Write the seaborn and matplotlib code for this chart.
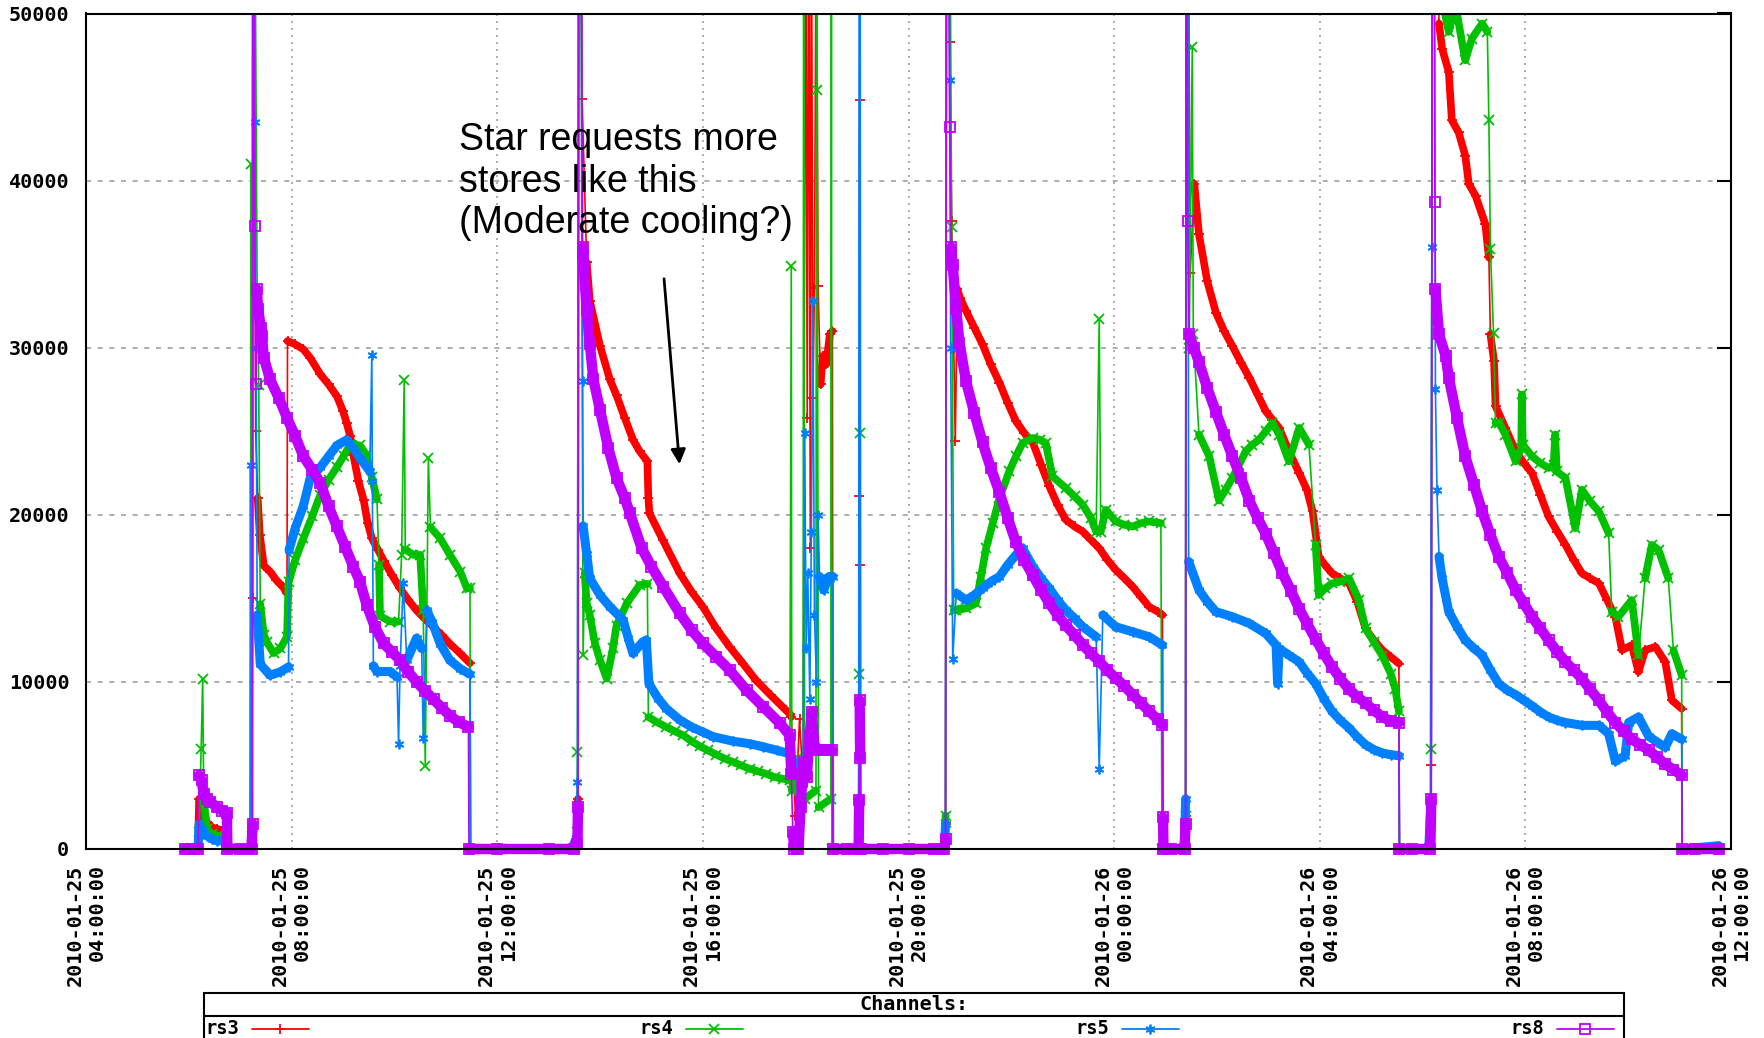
import pandas as pd
import numpy as np
import matplotlib
matplotlib.use('Agg')
import matplotlib.pyplot as plt
import matplotlib.dates as mdates
from matplotlib.lines import Line2D
from matplotlib.patches import Rectangle
import seaborn as sns

# (hours after 2010-01-25 04:00, value)
rs3_points = [
    (1.93, 0), (2.18, 0),
    (2.20, 3000), (2.25, 2800), (2.35, 1600), (2.45, 1300), (2.55, 1200), (2.65, 1100), (2.72, 1000), (2.73, 0),
    (3.22, 0),
    (3.24, 15000), (3.25, 60000), (3.27, 60000), (3.30, 25000), (3.34, 21000), (3.38, 18800), (3.46, 16950),
    (3.58, 16600), (3.70, 16100), (3.84, 15650), (3.91, 15300),
    (3.92, 30400), (4.07, 30200), (4.23, 29900), (4.36, 29400), (4.56, 28400), (4.72, 27800), (4.88, 27100),
    (5.00, 26200), (5.07, 25500), (5.14, 24700), (5.20, 23600), (5.30, 22000), (5.40, 20900), (5.48, 19500),
    (5.56, 18600), (5.68, 17900), (5.79, 17260), (5.95, 16400), (6.11, 15600), (6.27, 14900), (6.43, 14280),
    (6.60, 13750), (6.76, 13280), (6.92, 12800), (7.08, 12280), (7.28, 11700), (7.47, 11120), (7.48, 0),
    (9.55, 0),
    (9.57, 3000), (9.59, 60000), (9.63, 60000), (9.65, 44900), (9.74, 35100), (9.80, 32800), (10.00, 30100),
    (10.19, 28100), (10.32, 27150), (10.48, 25800), (10.64, 24500), (10.77, 23800), (10.92, 23200),
    (10.94, 21000), (10.96, 20100), (11.22, 18500), (11.55, 16500), (11.78, 15400), (12.00, 14500),
    (12.26, 13200), (12.52, 12100), (12.78, 11100), (13.03, 10110), (13.32, 9200), (13.61, 8320), (13.69, 8100),
    (13.72, 7900), (13.80, 2000), (13.88, 7800), (13.95, 4000), (14.00, 60000), (14.03, 25800), (14.06, 60000),
    (14.09, 18000), (14.11, 60000), (14.14, 27000), (14.17, 33600), (14.21, 60000), (14.24, 33700),
    (14.29, 27800), (14.33, 29500), (14.40, 29000), (14.47, 30800), (14.52, 31000), (14.53, 0),
    (15.03, 0), (15.04, 21100), (15.05, 44800), (15.06, 17000), (15.07, 0), (16.70, 0),
    (16.72, 1500), (16.74, 60000), (16.78, 60000), (16.80, 48300), (16.84, 37600), (16.88, 30000),
    (16.91, 24400), (16.95, 33500), (17.00, 33000), (17.12, 32200), (17.28, 31200), (17.44, 30200),
    (17.60, 29000), (17.77, 27900), (17.93, 26700), (18.09, 25600), (18.25, 24900), (18.42, 24300),
    (18.58, 23000), (18.74, 21700), (18.90, 20600), (19.06, 19700), (19.23, 19300), (19.39, 19000),
    (19.55, 18500), (19.71, 18000), (19.87, 17300), (20.03, 16700), (20.20, 16200), (20.36, 15700),
    (20.52, 15100), (20.68, 14500), (20.85, 14200), (20.94, 14000), (20.95, 0),
    (21.37, 0),
    (21.39, 2000), (21.40, 60000), (21.44, 60000), (21.48, 34500), (21.56, 39800), (21.65, 36800),
    (21.81, 34000), (21.98, 32100), (22.14, 31000), (22.30, 30100), (22.47, 29100), (22.63, 28200),
    (22.79, 27200), (22.95, 26200), (23.08, 25700), (23.21, 25200), (23.40, 23800), (23.60, 22500),
    (23.75, 21500), (23.86, 20200), (23.98, 17500), (24.10, 17000), (24.24, 16500), (24.40, 16200),
    (24.57, 15900), (24.73, 14800), (24.89, 13200), (25.05, 12500), (25.22, 11900), (25.38, 11500),
    (25.54, 11100), (25.55, 0),
    (26.15, 0),
    (26.17, 5000), (26.19, 60000), (26.25, 60000), (26.32, 49400), (26.38, 47900), (26.51, 46500),
    (26.57, 43600), (26.70, 42900), (26.83, 41500), (26.90, 39800), (27.03, 39100), (27.22, 37400),
    (27.29, 35400), (27.32, 30800), (27.39, 29200), (27.42, 26500), (27.61, 25200), (27.81, 23800),
    (27.97, 23100), (28.13, 22500), (28.29, 21200), (28.45, 19900), (28.62, 19000), (28.78, 18200),
    (28.94, 17300), (29.10, 16500), (29.26, 16200), (29.43, 15900), (29.59, 14900), (29.75, 13900),
    (29.88, 11900), (30.07, 12200), (30.20, 10600), (30.33, 11900), (30.53, 12100), (30.72, 11200),
    (30.85, 8900), (31.04, 8400), (31.05, 0),
    (31.76, 0),
]

rs4_points = [
    (1.93, 0), (2.18, 0),
    (2.20, 1000), (2.24, 6000), (2.27, 10190), (2.29, 3000), (2.35, 1200), (2.45, 900), (2.55, 800),
    (2.65, 700), (2.72, 700), (2.73, 0),
    (3.20, 0),
    (3.21, 41000), (3.23, 800), (3.25, 60000), (3.28, 60000), (3.33, 33000), (3.36, 27760), (3.39, 14660),
    (3.46, 12800), (3.52, 12370), (3.65, 11720), (3.78, 12000), (3.91, 12700), (3.94, 15970), (4.07, 17300),
    (4.23, 18600), (4.40, 19900), (4.56, 21210), (4.72, 22100), (4.88, 22850), (5.01, 23500), (5.14, 24200),
    (5.33, 24150), (5.45, 23600), (5.56, 22240), (5.66, 20920), (5.70, 17000), (5.72, 13940), (5.92, 13610),
    (6.08, 13610), (6.14, 17600), (6.19, 28050), (6.21, 17930), (6.37, 17600), (6.50, 17600), (6.56, 14280),
    (6.60, 4980), (6.63, 14000), (6.66, 23400), (6.70, 19260), (6.89, 18590), (7.08, 17600), (7.28, 16600),
    (7.41, 15600), (7.47, 15600), (7.48, 0),
    (9.50, 0), (9.55, 1000),
    (9.56, 5800), (9.58, 60000), (9.62, 60000), (9.67, 11600), (9.70, 16500), (9.74, 14700), (9.80, 14000),
    (9.90, 12300), (10.00, 11290), (10.13, 10200), (10.25, 12000), (10.32, 13370), (10.52, 14700),
    (10.77, 15800), (10.92, 15870), (10.94, 7900), (11.10, 7600), (11.29, 7300), (11.45, 7050), (11.62, 6800),
    (11.78, 6450), (11.94, 6150), (12.10, 5900), (12.26, 5650), (12.43, 5400), (12.59, 5200), (12.75, 5000),
    (12.91, 4800), (13.07, 4650), (13.23, 4500), (13.40, 4300), (13.56, 4200), (13.69, 4100),
    (13.72, 34900), (13.73, 3500), (13.82, 5400), (13.90, 2800), (13.95, 5000), (13.96, 60000),
    (13.98, 3000), (14.20, 3500), (14.21, 60000), (14.22, 45400), (14.25, 2500), (14.49, 3000),
    (14.50, 60000), (14.51, 0),
    (15.03, 0), (15.04, 10500), (15.05, 24900), (15.06, 0), (16.70, 0),
    (16.72, 2000), (16.74, 60000), (16.80, 60000), (16.84, 37200), (16.88, 14300), (16.93, 14300),
    (17.12, 14400), (17.31, 14700), (17.41, 16300), (17.51, 18000), (17.64, 19500), (17.77, 21000),
    (17.96, 22600), (18.09, 23500), (18.22, 24300), (18.42, 24600), (18.55, 24500), (18.67, 24300),
    (18.80, 22300), (19.06, 21600), (19.23, 21100), (19.39, 20600), (19.55, 19800), (19.65, 19000),
    (19.71, 31700), (19.74, 19000), (19.84, 20300), (20.03, 19600), (20.20, 19400), (20.36, 19300),
    (20.52, 19500), (20.68, 19600), (20.91, 19500), (20.93, 0),
    (21.37, 0),
    (21.39, 2000), (21.40, 60000), (21.44, 60000), (21.46, 30000), (21.52, 48000), (21.54, 30800),
    (21.65, 24800), (21.85, 23500), (22.04, 20850), (22.17, 21500), (22.30, 22200), (22.43, 23000),
    (22.56, 23800), (22.69, 24200), (22.82, 24500), (22.95, 25000), (23.08, 25500), (23.21, 24800),
    (23.40, 23200), (23.60, 25200), (23.79, 24200), (23.92, 18200), (23.98, 15200), (24.11, 15600),
    (24.24, 15900), (24.40, 16000), (24.57, 16200), (24.76, 14900), (24.89, 13200), (25.05, 12400),
    (25.22, 11550), (25.38, 10500), (25.47, 9560), (25.54, 8230), (25.55, 0),
    (26.15, 0),
    (26.17, 6000), (26.19, 60000), (26.30, 60000), (26.40, 50500), (26.51, 48900), (26.64, 50500),
    (26.83, 47200), (26.96, 48500), (27.16, 49400), (27.26, 48900), (27.29, 43600), (27.32, 35900),
    (27.38, 30900), (27.42, 25500), (27.49, 25500), (27.61, 24800), (27.81, 23200), (27.92, 24000),
    (27.93, 27200), (27.95, 24200), (28.13, 23500), (28.29, 23100), (28.45, 22800), (28.55, 23000),
    (28.58, 24800), (28.61, 22600), (28.78, 22200), (28.97, 19200), (29.10, 21500), (29.26, 20800),
    (29.43, 20200), (29.62, 18900), (29.68, 14200), (29.81, 13900), (30.07, 14900), (30.20, 11600),
    (30.33, 16200), (30.46, 18200), (30.59, 17900), (30.78, 16200), (30.88, 11900), (31.04, 10400),
    (31.05, 0),
    (31.76, 0),
]

rs5_points = [
    (1.93, 0), (2.18, 0),
    (2.20, 1500), (2.25, 1200), (2.35, 800), (2.45, 600), (2.55, 500), (2.65, 500), (2.72, 400), (2.73, 0),
    (3.19, 0),
    (3.20, 23000), (3.22, 500), (3.24, 60000), (3.27, 60000), (3.28, 43500), (3.31, 30000), (3.33, 14000),
    (3.39, 11060), (3.58, 10400), (3.78, 10600), (3.94, 10900), (3.95, 17900), (4.07, 19200), (4.23, 20550),
    (4.36, 22190), (4.56, 22850), (4.72, 23500), (4.88, 24150), (5.07, 24480), (5.20, 24000), (5.33, 23400),
    (5.52, 22600), (5.56, 29550), (5.57, 22000), (5.59, 10960), (5.66, 10620), (5.92, 10620), (6.05, 10290),
    (6.08, 6300), (6.11, 10960), (6.17, 15940), (6.24, 11290), (6.43, 12620), (6.53, 12000), (6.56, 6640),
    (6.63, 14280), (6.73, 13610), (6.89, 12280), (7.08, 11290), (7.28, 10790), (7.47, 10460), (7.48, 0),
    (9.45, 0), (9.52, 500),
    (9.56, 4000), (9.58, 60000), (9.63, 60000), (9.66, 28000), (9.67, 19330), (9.74, 17670), (9.80, 16200),
    (10.00, 15190), (10.19, 14500), (10.45, 13700), (10.55, 12600), (10.64, 11710), (10.83, 12400),
    (10.90, 12500), (10.95, 9900), (11.13, 9000), (11.29, 8400), (11.55, 7720), (11.78, 7300),
    (12.00, 7000), (12.20, 6720), (12.59, 6450), (12.91, 6300), (13.17, 6120), (13.45, 5900), (13.69, 5700),
    (13.72, 5400), (13.85, 5000), (13.95, 4000), (13.98, 24900), (14.01, 12000), (14.04, 16500),
    (14.08, 9000), (14.11, 19000), (14.14, 32800), (14.17, 14000), (14.21, 10000), (14.24, 20000),
    (14.27, 16300), (14.35, 15500), (14.45, 16300), (14.53, 16300), (14.54, 0),
    (15.03, 0), (15.04, 60000), (15.06, 60000), (15.07, 0), (16.70, 0),
    (16.72, 1500), (16.74, 60000), (16.79, 60000), (16.80, 46000), (16.82, 30000), (16.86, 11400),
    (16.93, 15300), (17.12, 14900), (17.28, 15200), (17.44, 15600), (17.60, 16000), (17.77, 16300),
    (17.93, 17000), (18.09, 17600), (18.22, 18000), (18.42, 16900), (18.58, 16200), (18.74, 15600),
    (18.90, 14900), (19.06, 14300), (19.23, 13800), (19.39, 13300), (19.65, 12700), (19.71, 4800),
    (19.78, 14000), (20.03, 13300), (20.36, 13000), (20.68, 12700), (20.94, 12200), (20.95, 0),
    (21.37, 0),
    (21.39, 3000), (21.40, 60000), (21.43, 60000), (21.45, 17200), (21.65, 15500), (21.81, 14800),
    (21.98, 14200), (22.30, 13900), (22.63, 13500), (22.95, 12900), (23.15, 12200), (23.18, 9900),
    (23.21, 12000), (23.40, 11600), (23.60, 11200), (23.76, 10500), (23.92, 9900), (24.08, 9000),
    (24.24, 8230), (24.40, 7700), (24.57, 7240), (24.73, 6700), (24.89, 6240), (25.05, 5950), (25.22, 5740),
    (25.38, 5650), (25.54, 5580), (25.55, 0),
    (26.12, 0),
    (26.15, 2000), (26.18, 36000), (26.19, 60000), (26.23, 60000), (26.25, 27500), (26.28, 21500),
    (26.32, 17500), (26.38, 16200), (26.51, 14200), (26.67, 13300), (26.83, 12500), (27.00, 12000),
    (27.16, 11600), (27.32, 10700), (27.48, 9900), (27.65, 9500), (27.81, 9230), (27.97, 8900),
    (28.13, 8570), (28.29, 8200), (28.45, 7900), (28.62, 7700), (28.78, 7570), (29.10, 7400), (29.43, 7400),
    (29.62, 6900), (29.75, 5250), (29.94, 5580), (30.01, 7570), (30.20, 7900), (30.40, 6740), (30.56, 6400),
    (30.72, 6080), (30.85, 6900), (31.04, 6570), (31.05, 0),
    (31.76, 200),
]

rs8_points = [
    (1.93, 0), (2.05, 0), (2.18, 0),
    (2.20, 4400), (2.25, 4100), (2.29, 3320), (2.35, 3000), (2.42, 2820), (2.55, 2490), (2.65, 2300),
    (2.74, 2160), (2.75, 0),
    (3.00, 0), (3.22, 0),
    (3.24, 1500), (3.25, 60000), (3.27, 60000), (3.28, 37300), (3.30, 27800), (3.32, 33500), (3.35, 32300),
    (3.40, 31200), (3.42, 30700), (3.46, 29400), (3.58, 28100), (3.75, 27000), (3.91, 25800), (4.07, 24700),
    (4.23, 23500), (4.40, 22700), (4.56, 21900), (4.72, 20500), (4.88, 19300), (5.04, 18100), (5.20, 16900),
    (5.33, 16000), (5.46, 14600), (5.62, 13300), (5.79, 12300), (5.95, 11800), (6.11, 11300), (6.27, 10600),
    (6.43, 10000), (6.60, 9450), (6.76, 8960), (6.92, 8450), (7.08, 7970), (7.25, 7600), (7.44, 7300),
    (7.45, 0),
    (8.00, 0), (9.00, 0), (9.50, 0), (9.56, 300),
    (9.57, 2500), (9.59, 60000), (9.63, 60000), (9.66, 36000), (9.67, 35500), (9.74, 32240), (9.80, 30250),
    (9.87, 28100), (10.00, 26270), (10.16, 24000), (10.32, 22200), (10.48, 21000), (10.58, 20100),
    (10.81, 18000), (11.00, 16900), (11.23, 15700), (11.55, 14100), (11.78, 13100), (12.00, 12300),
    (12.26, 11500), (12.52, 10710), (12.85, 9500), (13.17, 8520), (13.50, 7520), (13.69, 6800),
    (13.72, 4500), (13.75, 1000), (13.78, 0), (13.82, 300), (13.86, 0), (13.90, 2500), (13.93, 4000),
    (13.96, 5200), (14.02, 4300), (14.08, 6800), (14.12, 8200), (14.17, 6000), (14.22, 5900), (14.30, 5900),
    (14.40, 5900), (14.52, 5900), (14.53, 0),
    (14.80, 0), (15.03, 0), (15.04, 2960), (15.05, 8900), (15.06, 5430), (15.07, 0), (15.50, 0), (16.00, 0),
    (16.50, 0), (16.70, 0), (16.72, 600),
    (16.74, 60000), (16.78, 60000), (16.80, 43200), (16.83, 36000), (16.86, 34940), (16.93, 32290),
    (16.99, 30300), (17.12, 27980), (17.28, 26100), (17.44, 24330), (17.60, 22800), (17.77, 21340),
    (17.93, 19800), (18.09, 18360), (18.25, 17300), (18.42, 16370), (18.58, 15500), (18.74, 14710),
    (18.90, 14000), (19.06, 13380), (19.23, 12800), (19.39, 12220), (19.55, 11700), (19.71, 11230),
    (19.87, 10700), (20.03, 10230), (20.20, 9750), (20.36, 9240), (20.52, 8750), (20.68, 8240),
    (20.85, 7750), (20.94, 7410), (20.95, 1900), (20.96, 0),
    (21.10, 0), (21.37, 0),
    (21.39, 1500), (21.40, 60000), (21.42, 60000), (21.43, 37600), (21.46, 30810), (21.55, 30000),
    (21.65, 29150), (21.81, 27600), (21.98, 26160), (22.14, 24800), (22.30, 23510), (22.47, 22200),
    (22.63, 20850), (22.79, 19800), (22.95, 18860), (23.11, 17700), (23.27, 16540), (23.44, 15450),
    (23.60, 14380), (23.76, 13450), (23.92, 12550), (24.08, 11700), (24.24, 10890), (24.40, 10200),
    (24.57, 9560), (24.73, 9100), (24.89, 8730), (25.05, 8300), (25.22, 7900), (25.38, 7650), (25.54, 7570),
    (25.55, 0),
    (25.80, 0), (26.15, 0),
    (26.17, 3000), (26.19, 60000), (26.22, 60000), (26.24, 38700), (26.25, 33500), (26.32, 30800),
    (26.45, 29500), (26.51, 28200), (26.67, 25800), (26.83, 23500), (27.00, 21800), (27.16, 20200),
    (27.32, 18800), (27.48, 17500), (27.65, 16500), (27.81, 15500), (27.97, 14700), (28.13, 13900),
    (28.29, 13200), (28.45, 12500), (28.62, 11800), (28.78, 11200), (28.94, 10700), (29.10, 10200),
    (29.26, 9550), (29.43, 8900), (29.59, 8200), (29.75, 7570), (29.91, 7050), (30.07, 6570), (30.23, 6250),
    (30.40, 5910), (30.56, 5500), (30.72, 5080), (30.88, 4750), (31.04, 4420), (31.05, 0),
    (31.30, 0), (31.76, 0),
]

channel_names = ['rs3', 'rs4', 'rs5', 'rs8']
channel_colors = ['#ff0000', '#00c000', '#0080ff', '#c000ff']
channel_markers = ['+', 'x', (6, 2, 0), 's']
band_widths = [5.5, 5.5, 6.5, 7.5]
y_ticks = [0, 10000, 20000, 30000, 40000, 50000]
annotation_text = 'Star requests more\nstores like this\n(Moderate cooling?)'

start = pd.Timestamp('2010-01-25 04:00:00')
end = pd.Timestamp('2010-01-26 12:00:00')


def to_frame(points):
    df = pd.DataFrame(points, columns=['hour', 'value'])
    df['time'] = start + pd.to_timedelta(df['hour'], unit='h')
    # break the thick band wherever the value jumps
    steep = df['value'].diff().abs().fillna(0) >= 3500
    df['seg'] = steep.cumsum()
    return df


sns.set_style('white')
plt.rcParams['font.family'] = ['DejaVu Sans Mono']
plt.rcParams['font.weight'] = 'bold'
plt.rcParams['text.color'] = 'black'

W, H = 1765, 1038
fig = plt.figure(figsize=(W / 100, H / 100), dpi=100)
ax = fig.add_axes([86 / W, 1 - 849 / H, (1731 - 86) / W, (849 - 13.5) / H])

all_points = [rs3_points, rs4_points, rs5_points, rs8_points]
for pts, color, marker, band in zip(all_points, channel_colors, channel_markers, band_widths):
    df = to_frame(pts)
    sns.lineplot(data=df, x='time', y='value', units='seg', estimator=None, sort=False,
                 color=color, lw=band, ax=ax, legend=False)
    sns.lineplot(data=df, x='time', y='value', estimator=None, sort=False,
                 color=color, lw=1.2, marker=marker, ms=7, mew=1.3,
                 mfc='none' if marker == 's' else color, mec=color, ax=ax, legend=False)

clip = Rectangle((0, -0.012), 1, 1.012, transform=ax.transAxes)
for ln in ax.lines:
    ln.set_clip_path(clip)

ax.set_xlim(start, end)
ax.set_ylim(0, 50000)
ax.set_xlabel('')
ax.set_ylabel('')
ax.set_yticks(y_ticks)
ax.set_yticklabels([str(v) for v in y_ticks])

ax.xaxis.set_major_locator(mdates.HourLocator(byhour=[0, 4, 8, 12, 16, 20]))
ax.xaxis.set_minor_locator(mdates.HourLocator())
ax.xaxis.set_major_formatter(mdates.DateFormatter('%Y-%m-%d\n%H:%M:%S'))

ax.tick_params(axis='both', which='major', direction='in', length=10, width=1.5,
               top=False, right=True, labelsize=14.5, colors='black')
ax.tick_params(axis='x', which='minor', direction='in', length=6, width=1.2, top=False)
ax.tick_params(axis='y', pad=12)
ax.tick_params(axis='x', pad=11)
for lab in ax.get_xticklabels():
    lab.set_rotation(90)
    lab.set_ha('center')
    lab.set_va('top')
    lab.set_multialignment('right')
    lab.set_linespacing(1.2)

ax.xaxis.grid(True, color='#a0a0a0', ls=(0, (1.2, 3)), lw=1.2)
ax.yaxis.grid(True, color='#a0a0a0', ls=(0, (3, 4)), lw=1.2)
ax.set_axisbelow(True)
for sp in ax.spines.values():
    sp.set_color('black')
    sp.set_linewidth(1.5)

# annotation
ax.text(start + pd.Timedelta(hours=7.26), 43500, annotation_text, ha='left', va='top', color='black',
        fontsize=27, family='Liberation Sans', weight='normal', linespacing=1.2)
ax.annotate('', xy=(start + pd.Timedelta(hours=11.55), 22860),
            xytext=(start + pd.Timedelta(hours=11.24), 34290),
            arrowprops=dict(arrowstyle='-|>', color='black', lw=2, mutation_scale=22))


# key box at the bottom
def fx(px):
    return px / W


def fy(py):
    return 1 - py / H


fig.add_artist(Rectangle((fx(204), fy(1050)), fx(1624) - fx(204), fy(993) - fy(1050),
                         transform=fig.transFigure, fill=False, ec='black', lw=1.5))
fig.add_artist(Line2D([fx(204), fx(1624)], [fy(1016), fy(1016)], transform=fig.transFigure,
                      color='black', lw=1.5))
fig.text(fx(914), fy(1005), 'Channels:', ha='center', va='center', fontsize=14.5, weight='bold',
         color='black')
key_x = [205, 639, 1075, 1510]
for name, color, marker, kx in zip(channel_names, channel_colors, channel_markers, key_x):
    fig.text(fx(kx), fy(1029), name, ha='left', va='center', fontsize=13.5, weight='bold', color='black')
    fig.add_artist(Line2D([fx(kx + 47), fx(kx + 104)], [fy(1029), fy(1029)], transform=fig.transFigure,
                          color=color, lw=1.3))
    fig.add_artist(Line2D([fx(kx + 75)], [fy(1029)], transform=fig.transFigure, color=color,
                          marker=marker, ms=7, mew=1.3, mfc='none' if marker == 's' else color, mec=color))

plt.savefig('out.png', dpi=100)
plt.close()
print("saved out.png")
